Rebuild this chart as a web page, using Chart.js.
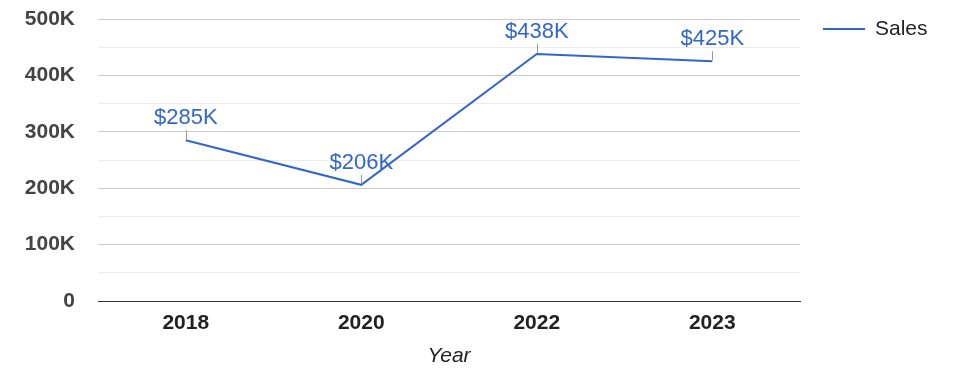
<!DOCTYPE html>
<html>
<head>
<meta charset="utf-8">
<script src="https://cdn.jsdelivr.net/npm/chart.js@4/dist/chart.umd.min.js"></script>
<style>
  html, body { margin: 0; padding: 0; background: #fff; }
  #wrap { width: 975px; height: 378px; }
</style>
</head>
<body>
<div id="wrap"><canvas id="c" width="975" height="378"></canvas></div>
<script>
const categories = ['2018', '2020', '2022', '2023'];
const salesValues = [285000, 206000, 438000, 425000];
const seriesName = 'Sales';
const axisTitleX = 'Year';
const yMax = 500000;
const yStep = 50000;

const FONT = '"Liberation Sans", Arial, sans-serif';
const LINE_COLOR = '#3366cc';

function fmtK(v) { return v === 0 ? '0' : (v / 1000) + 'K'; }

const labelPlugin = {
  id: 'pointLabels',
  afterDatasetsDraw(chart) {
    const ctx = chart.ctx;
    const meta = chart.getDatasetMeta(0);
    const data = chart.data.datasets[0].data;
    ctx.save();
    meta.data.forEach((pt, i) => {
      const x = Math.round(pt.x) + 0.5;
      const y = pt.y;
      ctx.strokeStyle = '#999';
      ctx.lineWidth = 1;
      ctx.beginPath();
      ctx.moveTo(x, y - 1);
      ctx.lineTo(x, y - 10);
      ctx.stroke();
      ctx.fillStyle = LINE_COLOR;
      ctx.font = '22px ' + FONT;
      ctx.textAlign = 'center';
      ctx.textBaseline = 'alphabetic';
      ctx.fillText('$' + (data[i] / 1000) + 'K', pt.x, y - 16);
    });
    ctx.restore();
  }
};

const legendPlugin = {
  id: 'customLegend',
  afterDraw(chart) {
    const ctx = chart.ctx;
    const ca = chart.chartArea;
    ctx.save();
    const ly = 29;
    const lx = ca.right + 23;
    ctx.strokeStyle = LINE_COLOR;
    ctx.lineWidth = 2;
    ctx.beginPath();
    ctx.moveTo(lx, ly);
    ctx.lineTo(lx + 42, ly);
    ctx.stroke();
    ctx.fillStyle = '#222';
    ctx.font = '21px ' + FONT;
    ctx.textAlign = 'left';
    ctx.textBaseline = 'middle';
    ctx.fillText(chart.data.datasets[0].label, lx + 52, ly);
    ctx.restore();
  }
};

new Chart(document.getElementById('c'), {
  type: 'line',
  data: {
    labels: categories,
    datasets: [{
      label: seriesName,
      data: salesValues,
      borderColor: LINE_COLOR,
      backgroundColor: LINE_COLOR,
      borderWidth: 2,
      pointRadius: 0,
      tension: 0,
      fill: false
    }]
  },
  options: {
    responsive: false,
    animation: false,
    layout: { padding: { top: 19, right: 175, bottom: 0, left: 0 } },
    plugins: {
      legend: { display: false },
      tooltip: { enabled: false }
    },
    scales: {
      x: {
        type: 'category',
        offset: true,
        grid: { display: false, drawTicks: false },
        border: { display: true, color: '#333', width: 1 },
        ticks: {
          padding: 10,
          color: '#222',
          font: { family: FONT, size: 21, weight: 'bold' }
        },
        title: {
          display: true,
          text: axisTitleX,
          color: '#222',
          padding: { top: 0, bottom: 9 },
          font: { family: FONT, size: 21, style: 'italic' }
        },
        afterFit(axis) { axis.height = 77; }
      },
      y: {
        min: 0,
        max: yMax,
        border: { display: false },
        grid: {
          drawTicks: false,
          color(ctx) {
            const v = ctx.tick.value;
            if (v === 0) return '#333';
            return v % 100000 === 0 ? '#cccccc' : '#ebebeb';
          }
        },
        ticks: {
          stepSize: yStep,
          padding: 23,
          color: '#444',
          font: { family: FONT, size: 21, weight: 'bold' },
          autoSkip: false,
          callback(v) { return v % 100000 === 0 ? fmtK(v) : ''; }
        },
        afterFit(axis) {
          axis.width = 98;
          axis.paddingTop = 0;
          axis.paddingBottom = 0;
        }
      }
    }
  },
  plugins: [labelPlugin, legendPlugin]
});
</script>
</body>
</html>
